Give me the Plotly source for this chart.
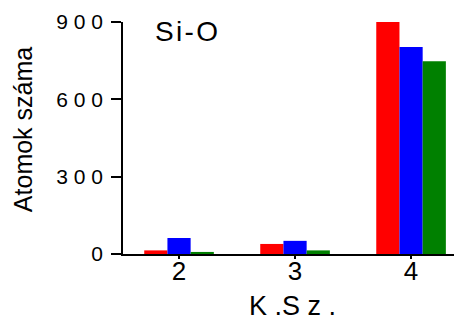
import plotly.graph_objects as go

categories = [2, 3, 4]
series_names = ["A", "B", "C"]
red_values = [14, 39, 900]
blue_values = [62, 51, 803]
green_values = [8, 14, 748]
colors = ["#FF0000", "#0000FF", "#008000"]
y_tick_vals = [0, 300, 600, 900]
y_tick_labels = ["0", "3 0 0", "6 0 0", "9 0 0"]
x_tick_labels = ["2", "3", "4"]
x_title = "K .S z ."
y_title = "Atomok száma"
panel_label = "S\u200ai\u200a-\u200aO"

FONT = "Liberation Sans, Arial, sans-serif"
OFF = 8  # page body margin offset
W, H = 462 - OFF, 320 - OFF
L, R, T = 123 - OFF, 0, 22 - OFF
B = H - (253.7 - OFF)
x_range = [1.517, 4.439]
y_range = [0, 900]

def px_to_paper(px, py):
    px -= OFF
    py -= OFF
    return (px - L) / (W - L - R), (H - B - py) / (H - T - B)

fig = go.Figure()
for name, vals, col in zip(series_names, [red_values, blue_values, green_values], colors):
    fig.add_trace(go.Bar(x=categories, y=vals, name=name, marker=dict(color=col, line=dict(width=0)),
                         showlegend=False))

ax_common = dict(showgrid=False, zeroline=False, automargin=False)
fig.update_layout(
    width=W, height=H,
    margin=dict(l=L, r=R, t=T, b=B, pad=0),
    paper_bgcolor="white", plot_bgcolor="white",
    barmode="group", bargap=0.4, bargroupgap=0,
    font=dict(family=FONT, color="black"),
    xaxis=dict(range=x_range, tickvals=categories, ticktext=x_tick_labels,
               ticks="outside", ticklen=3, tickwidth=1.5, tickcolor="black",
               showline=True, linecolor="black", linewidth=1.5,
               tickfont=dict(size=26, family=FONT), ticklabelstandoff=-10, **ax_common),
    yaxis=dict(range=y_range, tickvals=y_tick_vals, ticktext=y_tick_labels,
               ticks="outside", ticklen=10, tickwidth=1.5, tickcolor="black",
               showline=True, linecolor="black", linewidth=1.5,
               tickfont=dict(size=21, family=FONT), ticklabelstandoff=4, **ax_common),
    xaxis2=dict(overlaying="x", anchor="y", side="bottom", range=x_range, tickvals=categories,
                ticks="inside", ticklen=6, tickwidth=1.5, tickcolor="black",
                showticklabels=False, showline=False, **ax_common),
    yaxis2=dict(overlaying="y", anchor="x", side="left", range=y_range, dtick=150, tick0=0,
                ticks="inside", ticklen=5, tickwidth=1.5, tickcolor="black",
                showticklabels=False, showline=False, **ax_common),
)

ann = []
x, y = px_to_paper(186, 31)
ann.append(dict(text=panel_label, x=x, y=y, xref="paper", yref="paper", showarrow=False,
                xanchor="center", yanchor="middle", font=dict(size=28, family=FONT)))
x, y = px_to_paper(292, 306)
ann.append(dict(text=x_title, x=x, y=y, xref="paper", yref="paper", showarrow=False,
                xanchor="center", yanchor="middle", font=dict(size=27, family=FONT)))
x, y = px_to_paper(23, 130)
ann.append(dict(text=y_title, x=x, y=y, xref="paper", yref="paper", showarrow=False, textangle=-90,
                xanchor="center", yanchor="middle", font=dict(size=25, family=FONT)))
fig.update_layout(annotations=ann)

fig.write_html("out.html")
